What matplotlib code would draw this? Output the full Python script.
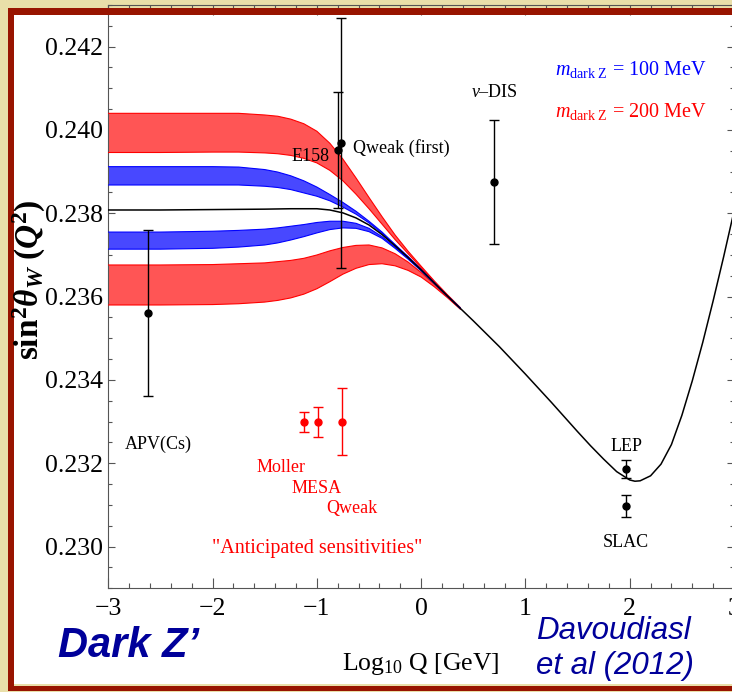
import matplotlib
matplotlib.use("Agg")
import matplotlib.pyplot as plt
from matplotlib.patches import Rectangle
from matplotlib.ticker import MultipleLocator, FormatStrFormatter

W, H, DPI = 732, 692, 100

plt.rcParams.update({
    "font.family": ["Liberation Serif", "DejaVu Serif"],
    "mathtext.fontset": "custom",
    "mathtext.rm": "Liberation Serif",
    "mathtext.it": "Liberation Serif:italic",
    "mathtext.bf": "Liberation Serif:bold",
    "mathtext.bfit": "Liberation Serif:bold:italic",
})

# ---------------- data ----------------
# Standard Model running of sin^2(theta_W) vs log10(Q/GeV)
sm_logq = [-3.0, -2.5, -2.0, -1.5, -1.25, -1.0, -0.875, -0.75, -0.625, -0.5,
           -0.375, -0.25, -0.125, 0.0, 0.125, 0.25, 0.375, 0.5, 0.75, 1.0,
           1.25, 1.5, 1.625, 1.75, 1.875, 2.0, 2.05, 2.1, 2.2, 2.3, 2.4, 2.5,
           2.6, 2.7, 2.8, 2.9, 3.0]
sm_sin2 = [0.23808, 0.23808, 0.23809, 0.23810, 0.23811, 0.23811, 0.23808,
           0.23801, 0.23789, 0.23772, 0.23749, 0.23722, 0.23694, 0.23664,
           0.23633, 0.23602, 0.23572, 0.23542, 0.23480, 0.23414, 0.23346,
           0.23276, 0.23242, 0.23210, 0.23180, 0.23160, 0.23157, 0.23158,
           0.23170, 0.23198, 0.23245, 0.23315, 0.23398, 0.23490, 0.23590,
           0.23695, 0.23805]

# dark Z bands (upper/lower edges), m = 200 MeV (red) and 100 MeV (blue)
band_logq = [-3.0, -2.5, -2.0, -1.75, -1.5, -1.375, -1.25, -1.125, -1.0,
             -0.875, -0.75, -0.625, -0.5, -0.375, -0.25, -0.125, 0.0, 0.125,
             0.25, 0.375]
red_up_top = [0.24040, 0.24040, 0.24040, 0.24040, 0.24036, 0.24033, 0.24026,
              0.24015, 0.23997, 0.23968, 0.23930, 0.23885, 0.23838, 0.23792,
              0.23748, 0.23709, 0.23673, 0.23638, 0.23605, 0.23574]
red_up_bot = [0.23946, 0.23946, 0.23947, 0.23947, 0.23945, 0.23943, 0.23939,
              0.23932, 0.23921, 0.23903, 0.23878, 0.23846, 0.23811, 0.23774,
              0.23737, 0.23703, 0.23669, 0.23636, 0.23604, 0.23573]
red_lo_top = [0.23676, 0.23676, 0.23677, 0.23679, 0.23681, 0.23684, 0.23687,
              0.23692, 0.23700, 0.23710, 0.23718, 0.23723, 0.23724, 0.23717,
              0.23703, 0.23683, 0.23658, 0.23630, 0.23600, 0.23571]
red_lo_bot = [0.23580, 0.23580, 0.23581, 0.23583, 0.23587, 0.23591, 0.23597,
              0.23606, 0.23619, 0.23636, 0.23654, 0.23668, 0.23677, 0.23679,
              0.23674, 0.23663, 0.23647, 0.23624, 0.23598, 0.23570]
blue_up_top = [0.23912, 0.23912, 0.23912, 0.23911, 0.23905, 0.23899, 0.23890,
               0.23878, 0.23863, 0.23845, 0.23826, 0.23805, 0.23781, 0.23755,
               0.23725, 0.23696, 0.23665, 0.23634, 0.23602, 0.23572]
blue_up_bot = [0.23868, 0.23868, 0.23868, 0.23868, 0.23865, 0.23862, 0.23857,
               0.23849, 0.23841, 0.23830, 0.23815, 0.23798, 0.23777, 0.23752,
               0.23724, 0.23695, 0.23665, 0.23633, 0.23602, 0.23572]
blue_lo_top = [0.23755, 0.23755, 0.23757, 0.23759, 0.23762, 0.23765, 0.23769,
               0.23773, 0.23778, 0.23781, 0.23781, 0.23776, 0.23764, 0.23744,
               0.23719, 0.23692, 0.23663, 0.23633, 0.23602, 0.23572]
blue_lo_bot = [0.23714, 0.23714, 0.23716, 0.23719, 0.23724, 0.23729, 0.23736,
               0.23744, 0.23753, 0.23761, 0.23765, 0.23764, 0.23756, 0.23740,
               0.23716, 0.23690, 0.23662, 0.23632, 0.23602, 0.23572]

# existing measurements
meas_names = ["APV(Cs)", "E158", "Qweak (first)", r"$\nu$–DIS", "LEP", "SLAC"]
meas_logq = [-2.62, -0.80, -0.77, 0.70, 1.96, 1.96]
meas_sin2 = [0.23561, 0.23952, 0.23969, 0.23875, 0.23186, 0.23098]
meas_err = [0.00200, 0.00139, 0.00300, 0.00149, 0.00022, 0.00026]

# anticipated sensitivities
fut_names = ["Moller", "MESA", "Qweak"]
fut_logq = [-1.12, -0.99, -0.76]
fut_sin2 = [0.23300, 0.23300, 0.23300]
fut_err = [0.00024, 0.00036, 0.00081]

x_ticks = [-3, -2, -1, 0, 1, 2, 3]
y_ticks = [0.230, 0.232, 0.234, 0.236, 0.238, 0.240, 0.242]

# ---------------- colours ----------------
BEIGE = "#e9dfa9"
FRAME = "#981400"
RED_FILL = "#ff5555"
BLUE_FILL = "#4848ff"
NAVY = "#00009a"


def fx(px):
    return px / W


def fy(py):
    return 1.0 - py / H


fig = plt.figure(figsize=(W / DPI, H / DPI), dpi=DPI, facecolor=BEIGE)

# slide frame: dark red border with white panel
fig.add_artist(Rectangle((fx(8), fy(691)), fx(760) - fx(8), fy(8) - fy(691),
                         transform=fig.transFigure, facecolor=FRAME,
                         edgecolor="none", zorder=-6))
fig.add_artist(Rectangle((fx(14), fy(686)), fx(760) - fx(14), fy(684) - fy(686),
                         transform=fig.transFigure, facecolor=BEIGE,
                         edgecolor="none", zorder=-5.5))
fig.add_artist(Rectangle((fx(14), fy(684)), fx(760) - fx(14), fy(15) - fy(684),
                         transform=fig.transFigure, facecolor="white",
                         edgecolor="none", zorder=-5))

ax_l, ax_r, ax_b, ax_t = 108.3, 734.0, 588.3, 5.0
ax = fig.add_axes([fx(ax_l), fy(ax_b), fx(ax_r) - fx(ax_l), fy(ax_t) - fy(ax_b)])
ax.set_facecolor("none")

# bands
for top, bot, fill, edge in [(red_up_top, red_up_bot, RED_FILL, "#ff0000"),
                             (red_lo_top, red_lo_bot, RED_FILL, "#ff0000"),
                             (blue_up_top, blue_up_bot, BLUE_FILL, "#0000ff"),
                             (blue_lo_top, blue_lo_bot, BLUE_FILL, "#0000ff")]:
    ax.fill_between(band_logq, bot, top, facecolor=fill, edgecolor="none", zorder=2)
    ax.plot(band_logq, top, color=edge, lw=0.8, zorder=3)
    ax.plot(band_logq, bot, color=edge, lw=0.8, zorder=3)

ax.plot(sm_logq, sm_sin2, color="black", lw=1.1, zorder=4)

# data points
ax.errorbar(meas_logq, meas_sin2, yerr=meas_err, fmt="o", color="black",
            ms=5, lw=1.0, capsize=3.5, capthick=1.0, zorder=5)
ax.errorbar(fut_logq, fut_sin2, yerr=fut_err, fmt="o", color="red",
            ms=5, lw=1.0, capsize=3.5, capthick=1.0, zorder=5)


# labels in data space (anchored by baseline)
def px_to_data(px, py):
    return ((px - 421.0) / 104.3, 0.242 - (py - 46.7) / 41667.0)


lab_kw = dict(fontsize=13, va="baseline", zorder=6)
for name, (px, py, ha) in zip(meas_names, [(158, 449, "center"), (310, 161, "center"),
                                           (353, 153, "left"), (494, 97, "center"),
                                           (626, 451, "center"), (626, 547, "center")]):
    x, y = px_to_data(px, py)
    ax.text(x, y, name, ha=ha, color="black", **lab_kw)

for name, (px, py) in zip(fut_names, [(281, 472), (316, 493), (352, 513)]):
    x, y = px_to_data(px, py)
    ax.text(x, y, name, ha="center", color="red", **lab_kw)

x, y = px_to_data(317, 553)
ax.text(x, y, "\"Anticipated sensitivities\"", ha="center", color="red",
        fontsize=14.5, va="baseline")

x, y = px_to_data(555, 75)
ax.text(x, y, r"$m_{\mathrm{dark\ Z}}$ = 100 MeV", color="blue", fontsize=14.5,
        va="baseline", ha="left")
x, y = px_to_data(555, 117)
ax.text(x, y, r"$m_{\mathrm{dark\ Z}}$ = 200 MeV", color="red", fontsize=14.5,
        va="baseline", ha="left")

# axes styling
ax.set_xlim(-3, 3)
ax.set_ylim(0.229, 0.243)
ax.set_xticks(x_ticks)
ax.set_yticks(y_ticks)
ax.yaxis.set_major_formatter(FormatStrFormatter("%.3f"))
ax.xaxis.set_minor_locator(MultipleLocator(0.2))
ax.yaxis.set_minor_locator(MultipleLocator(0.0005))
for s in ax.spines.values():
    s.set_color("#555555")
    s.set_linewidth(0.8)
ax.tick_params(which="both", direction="in", top=True, right=True,
               color="#555555", width=0.8, labelsize=18.5)
ax.tick_params(axis="x", which="major", length=7.2, pad=7)
ax.tick_params(axis="x", which="minor", length=3.6)
ax.tick_params(axis="y", which="major", length=5.0, pad=4)
ax.tick_params(axis="y", which="minor", length=3.0)

# top stripe of the frame sits over the upper axis edge
fig.add_artist(Rectangle((fx(8), fy(15)), fx(760) - fx(8), fy(8) - fy(15),
                         transform=fig.transFigure, facecolor=FRAME,
                         edgecolor="none", zorder=10))

# axis titles
fig.text(fx(421), fy(670), r"Log$_{10}$ Q [GeV]", ha="center", va="baseline",
         fontsize=18.5)
fig.text(fx(29), fy(280),
         r"$\mathbf{sin}^{\mathbf{2}}\mathbfit{\theta}_{\mathbfit{W}}\ \mathbf{(}\mathbfit{Q}^{\mathbf{2}}\mathbf{)}$",
         rotation=90, ha="center", va="center", fontsize=24)

# slide annotations
fig.text(fx(58), fy(657), "Dark Z’", family="Liberation Sans", weight="bold",
         style="italic", color=NAVY, fontsize=30, va="baseline", ha="left")
fig.text(fx(536), fy(639), "Davoudiasl", family="Liberation Sans",
         style="italic", color=NAVY, fontsize=22.5, va="baseline", ha="left")
fig.text(fx(536), fy(674), "et al (2012)", family="Liberation Sans",
         style="italic", color=NAVY, fontsize=22.5, va="baseline", ha="left")

fig.savefig("out.png", dpi=DPI, facecolor=BEIGE)
